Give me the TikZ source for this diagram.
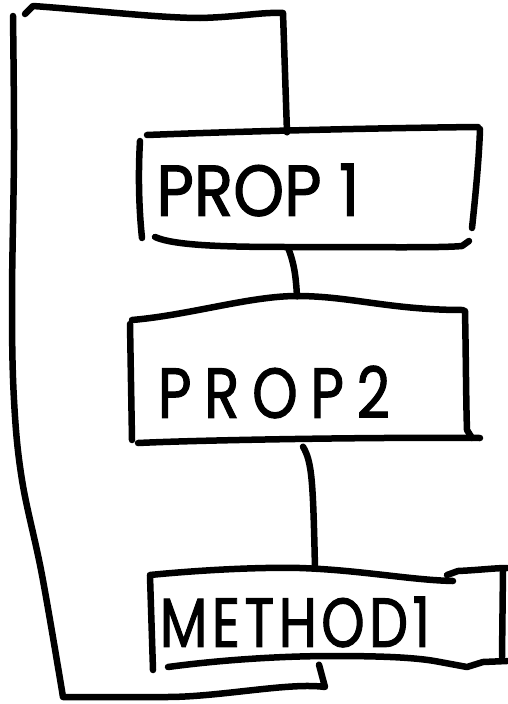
\documentclass[tikz,border=0pt]{standalone}
\usepackage{fontspec}
\setmainfont{Poppins}
\newfontfamily\sketchfont[FakeBold=1.6]{Poppins}
\usetikzlibrary{calc}
\tikzset{
  ink/.style={line width=6.5pt, line cap=round, line join=round, draw=black},
  area/.style={draw=none, inner sep=0pt},
  lbl/.style={inner sep=0pt, text=black, font=\sketchfont}
}
\begin{document}
\begin{tikzpicture}[x=1pt,y=-1pt]
\useasboundingbox (0,0) rectangle (507,704);

% invisible frames of the three boxes
\node[area, minimum width=340pt, minimum height=115pt] (p1) at (310,188) {};
\node[area, minimum width=335pt, minimum height=135pt] (p2) at (298,372) {};
\node[area, minimum width=354pt, minimum height=97pt]  (m1) at (328,618) {};

% labels
\node[lbl] (t1) at (258,190) {\resizebox{203pt}{52pt}{PROP 1}};
\node[lbl] (t2) at (274,392) {\resizebox{232pt}{52pt}{\addfontfeature{LetterSpace=22}PROP2}};
\node[lbl] (t3) at (295,622) {\resizebox{270pt}{50pt}{\addfontfeature{LetterSpace=8}METHOD1}};

% PROP 1 outline, sketched stroke by stroke
\draw[ink] (147,135) .. controls (250,131) and (380,128) .. (478,127);
\draw[ink] (480,129) .. controls (479,160) and (475,200) .. (472,228);
\draw[ink] (140,141) .. controls (138,175) and (139,210) .. (142,238);
\draw[ink] (155,237) .. controls (175,246) and (230,247) .. (290,247)
           .. controls (380,247) and (440,248) .. (462,246) -- (469,241);

% PROP2 outline
\draw[ink] (132,320) .. controls (190,315) and (250,296) .. (297,296)
           .. controls (350,296) and (390,310) .. (463,310);
\draw[ink] (465,311) .. controls (466,360) and (466,400) .. (467,430) -- (472,438);
\draw[ink] (130,324) -- (132,440);
\draw[ink] (138,443) .. controls (200,440) and (380,437) .. (480,438);

% METHOD1 outline
\draw[ink] (150,575) .. controls (200,570) and (260,567) .. (300,568)
           .. controls (360,570) and (410,580) .. (453,581);
\draw[ink] (447,575) -- (458,571) .. controls (480,570) and (495,568) .. (507,568);
\draw[ink] (150,576) -- (153,670);
\draw[ink] (503,569) -- (502,657);
\draw[ink] (168,667) .. controls (220,660) and (280,656) .. (333,656)
           .. controls (390,656) and (420,658) .. (440,662) -- (467,667) -- (483,662) -- (507,661);

% top stroke into PROP 1
\coordinate (tr) at (283,13);
\draw[ink] (25,14) -- (33,6) .. controls (90,10) and (160,18) .. (200,18)
           .. controls (240,17) and (260,12) .. (tr) -- ($(p1.north)+(-23,2)$);

% PROP 1 to PROP2
\draw[ink] ($(p1.south)+(-22,2)$) .. controls (295,265) and (296,280) .. ($(p2.north)+(-1,-8)$);

% PROP2 to METHOD1
\draw[ink] ($(p2.south)+(5,7)$) .. controls (312,462) and (313,480) .. ($(m1.north)+(-13,-1)$);

% return loop from METHOD1 round the left side
\draw[ink] ($(m1.south)+(-9,-2)$) -- (325,687) .. controls (290,682) and (220,697) .. (167,697) -- (63,697)
           -- plot[smooth, tension=0.6] coordinates {(63,697) (42,575) (22,480) (14,400) (12,300) (14,150) (13,16)};
\end{tikzpicture}
\end{document}
